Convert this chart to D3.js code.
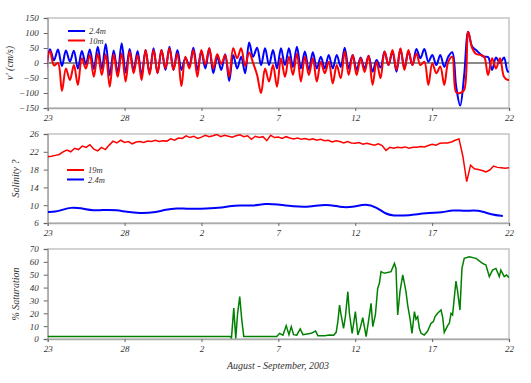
<!DOCTYPE html>
<html>
<head>
<meta charset="utf-8">
<script src="https://cdn.jsdelivr.net/npm/d3@7"></script>
<style>
  body { margin: 0; background: #fff; }
</style>
</head>
<body>
<svg id="chart" width="531" height="383"></svg>
<script>
// x axis: days since 23 August 2003
const xTickDays = [0, 5, 10, 15, 20, 25, 30];
const xTickLabels = ["23", "28", "2", "7", "12", "17", "22"];

// velocity: tidal extremes, sampled every ~6.2 h from day -0.11
const velStart = -0.11;
const velStep = 0.259;
const vel24m = [
  -25, 46, 9, 45, -10, 42, 5, 41, -19, 40,
  -4, 45, -20, 54, -20, 63, -41, 42, -33, 66,
  -32, 47, -24, 40, -40, 43, -34, 49, -34, 43,
  -23, 54, -23, 43, -23, 16, -7, 51, -23, 38,
  -18, 49, -34, 21, -23, 29, -60, 27, -18, 21,
  -34, 68, 21, 51, -7, 49, -7, 43, -18, 49,
  -7, 49, -13, 54, -18, 38, -23, 36, -18, 21,
  -18, 27, -18, 27, -13, 51, -18, 27,
  -23, 18, -18, 24, -29, 10, -15, 38, -7, 38,
  -29, 47, -18, 38, -7, 47, 16, 47, 4, 27,
  -7, 27, -13, 21, 36, -80, -142, -40, 104, 55,
  43, 30, 21, 20, -23, 18, 0, 18, -29, -20
];
const vel10m = [
  -20, 40, -8, 0, -93, -18, -57, -7, -73, 16,
  -18, 27, -46, 32, -40, 29, -79, 29, -46, 32,
  -62, 38, -34, 27, -57, 43, -38, 43, -34, 43,
  -18, 49, -23, 32, -77, 21, -18, 43, -46, 43,
  -5, 49, -18, 29, -3, 27, -46, 49, 16, 49,
  -10, 35, 0, -40, -100, -18, -62, -7, -79, 16,
  -46, 21, -40, 32, -62, 21, -40, 16, -62, 4,
  -34, 4, -68, -7, -51, 38, -40, 27,
  -40, 16, -30, 24, -73, 4, -51, 38, -7, 43,
  -23, 49, -23, 43, -7, 32, -7, 4, -73, -1,
  -34, -12, -73, 4, 21, -98, -100, -90, 104, 50,
  30, 27, 21, -40, 16, -18, 16, -46, -57, -50
];
const velTicks = [-150, -100, -50, 0, 50, 100, 150];

// salinity: 19m every quarter day, 2.4m at irregular days
const salStep = 0.25;
const sal19m = [
  20.9, 21.0, 21.2, 21.4,
  22.0, 22.4, 22.0, 22.8,
  22.5, 23.3, 23.0, 23.6,
  22.6, 22.2, 23.0, 22.5,
  23.5, 24.4, 24.0, 24.6,
  24.1, 24.3, 23.8, 24.2,
  24.3, 24.1, 24.4, 24.3,
  24.6, 24.3, 24.5, 24.4,
  24.9, 24.6, 25.1, 25.0,
  25.6, 25.2, 25.5, 25.0,
  25.3, 25.7, 25.4, 25.6,
  25.9, 25.4, 25.7, 25.5,
  25.3, 25.6, 25.8, 25.4,
  25.6, 24.8, 25.5, 25.2,
  25.4, 24.5, 25.7, 25.2,
  25.3, 25.0, 25.4, 25.1,
  24.9, 25.1, 24.8, 25.0,
  24.7, 24.9, 24.6, 24.8,
  24.5, 24.6, 24.2, 24.5,
  24.3, 24.0, 24.3, 24.0,
  23.9, 24.1, 23.7, 23.9,
  23.7, 23.5, 23.8, 23.4,
  22.3, 23.0, 22.8, 23.0,
  22.9, 23.1, 22.8, 23.0,
  23.0, 23.2, 23.1, 23.4,
  23.7, 23.5, 23.9, 24.0,
  24.0, 24.2, 24.6, 24.9,
  21.0, 15.3, 19.0, 18.2,
  18.0, 17.8, 17.5, 17.9,
  18.8, 18.5, 18.4, 18.3,
  18.4
];
const sal24Days = [0, 0.5, 1, 1.5, 2.1, 3, 3.8, 4.5, 5.1, 6, 6.9, 7.7, 8.4, 9, 9.9, 11.2, 11.8, 12.5, 13.3, 14.2,
  14.9, 16, 17, 18.1, 19, 19.8, 20.7, 21.4, 22, 22.4, 23.5, 24.6, 25.7, 26.3, 27.2, 27.95, 28.9, 29.6];
const sal24m = [8.5, 8.5, 9.0, 9.5, 9.4, 8.7, 9.0, 8.9, 8.5, 8.15, 8.3, 9.05, 9.35, 9.2, 9.2, 9.35, 9.8, 10.0, 9.8, 10.4,
  10.2, 9.7, 9.55, 10.3, 9.55, 9.5, 10.4, 9.5, 8.0, 7.65, 7.65, 8.3, 8.3, 9.0, 8.6, 9.0, 7.8, 7.6];
const salTicks = [6, 10, 14, 18, 22, 26];

// dissolved oxygen, % saturation
const oxDays = [0, 10.7, 11.9, 11.95, 12.1, 12.23, 12.35, 12.49, 12.62, 12.75, 14.9,
  15.08, 15.3, 15.51, 15.69, 15.84, 15.99, 16.2, 16.42, 16.6, 17.14, 17.42, 17.57, 18.0, 18.33, 18.6,
  18.76, 18.87, 18.98, 19.08, 19.24, 19.36, 19.52, 19.62, 19.8, 20.01, 20.17, 20.32, 20.49, 20.71,
  20.88, 21.03, 21.14, 21.31, 21.46, 21.57, 21.68, 21.9, 22.11, 22.33, 22.55, 22.65, 22.76, 22.91,
  23.09, 23.2, 23.3, 23.41, 23.56, 23.69, 23.85, 23.95, 24.06, 24.17, 24.28, 24.49, 24.71, 24.93,
  25.08, 25.19, 25.36, 25.58, 25.69, 25.79, 26.01, 26.12, 26.23, 26.33, 26.55, 26.66, 26.81, 26.94,
  27.09, 27.42, 27.85, 28.28, 28.5, 28.72, 28.93, 29.15, 29.37, 29.47, 29.69, 29.84, 30.0];
const oxSat = [2, 2, 2, 0.5, 24, 0.5, 20, 33, 15, 2, 2,
  4.4, 3, 10.4, 3.4, 9.6, 3.4, 3, 7.8, 3.4, 4.4, 6.2, 2.6, 2.6, 3.1, 3,
  5.2, 13.5, 26.4, 18.7, 8.3, 17.4, 36.8, 20, 4.4, 21.3, 3.1, 8.3, 16.6, 1.8,
  15.3, 27.7, 9.6, 18.7, 39.4, 43.3, 52.4, 51.1, 51.8, 52.4, 58.8, 54.9, 18.7, 36.8,
  49.8, 43.3, 36.8, 26.4, 16, 4.4, 21.3, 15.3, 17.4, 8.3, 4.4, 3.1, 6.2, 12.2,
  13.5, 17.4, 20, 22.5, 16.6, 5.2, 10.4, 12.2, 20, 18.7, 45.1, 36.8, 22.5, 54.9,
  62.7, 64, 62.7, 58.8, 57.5, 48.5, 53.6, 54.9, 48.5, 53.6, 48.5, 49.8, 47.7];
const oxTicks = [0, 10, 20, 30, 40, 50, 60, 70];

const FONT = "'Liberation Serif', 'Times New Roman', serif";

const svg = d3.select("#chart");
const left = 47.7, right = 509;

const x = d3.scaleLinear().domain([0, 30]).range([left, right]);

function label(sel, size) {
  return sel
    .attr("font-family", FONT)
    .attr("font-style", "italic")
    .attr("font-size", size)
    .attr("fill", "#333");
}

function panel(top, bottom, yDomain, yTicks, yLabel, labelX, id) {
  const y = d3.scaleLinear().domain(yDomain).range([bottom, top]);
  const g = svg.append("g");

  svg.append("clipPath").attr("id", id)
    .append("rect")
    .attr("x", left).attr("y", top)
    .attr("width", right - left).attr("height", bottom - top);

  g.append("rect")
    .attr("x", left).attr("y", top)
    .attr("width", right - left).attr("height", bottom - top)
    .attr("fill", "none")
    .attr("stroke", "#c4c4c4")
    .attr("stroke-width", 1.5);

  const ya = g.append("g")
    .attr("transform", `translate(${left},0)`)
    .call(d3.axisLeft(y).tickValues(yTicks).tickSize(4).tickPadding(5));
  const xa = g.append("g")
    .attr("transform", `translate(0,${bottom})`)
    .call(d3.axisBottom(x).tickValues(xTickDays).tickSize(3).tickPadding(4)
      .tickFormat((d, i) => xTickLabels[i]));

  [ya, xa].forEach(a => {
    a.attr("font-family", FONT);
    a.select(".domain").attr("stroke", "#aaa").attr("stroke-width", 1.5);
    a.selectAll(".tick line").attr("stroke", "#666");
    label(a.selectAll(".tick text"), 9);
  });

  label(g.append("text"), 10)
    .attr("transform", `translate(${labelX},${(top + bottom) / 2}) rotate(-90)`)
    .attr("text-anchor", "middle")
    .text(yLabel);

  const plot = svg.append("g").attr("clip-path", `url(#${id})`);
  return { y, plot };
}

function legend(rows, x0, y0) {
  rows.forEach((r, i) => {
    const yy = y0 + i * 9.5;
    svg.append("line")
      .attr("x1", x0).attr("x2", x0 + 17)
      .attr("y1", yy).attr("y2", yy)
      .attr("stroke", r.color).attr("stroke-width", 2);
    label(svg.append("text"), 8.5)
      .attr("x", x0 + 21).attr("y", yy + 3)
      .text(r.name);
  });
}

// top: velocity
const p1 = panel(18, 108, [-150, 150], velTicks, "v' (cm/s)", 13, "clip1");
p1.plot.append("line")
  .attr("x1", left).attr("x2", right)
  .attr("y1", p1.y(0)).attr("y2", p1.y(0))
  .attr("stroke", "#8a8a8a").attr("stroke-width", 2);

const velLine = d3.line()
  .x((d, i) => x(velStart + i * velStep))
  .y(d => p1.y(d))
  .curve(d3.curveCatmullRom.alpha(0.5));

p1.plot.append("path").datum(vel24m)
  .attr("d", velLine).attr("fill", "none")
  .attr("stroke", "#0000ff").attr("stroke-width", 2);
p1.plot.append("path").datum(vel10m)
  .attr("d", velLine).attr("fill", "none")
  .attr("stroke", "#ff0000").attr("stroke-width", 2);

legend([{ name: "2.4m", color: "#0000ff" }, { name: "10m", color: "#ff0000" }], 68, 31);

// middle: salinity
const p2 = panel(134, 223, [6, 26], salTicks, "Salinity ?", 19, "clip2");
p2.plot.append("path").datum(sal19m)
  .attr("d", d3.line().x((d, i) => x(i * salStep)).y(d => p2.y(d)))
  .attr("fill", "none")
  .attr("stroke", "#ff0000").attr("stroke-width", 1.5);
p2.plot.append("path").datum(sal24m)
  .attr("d", d3.line().x((d, i) => x(sal24Days[i])).y(d => p2.y(d)).curve(d3.curveBasis))
  .attr("fill", "none")
  .attr("stroke", "#0000ff").attr("stroke-width", 2);

legend([{ name: "19m", color: "#ff0000" }, { name: "2.4m", color: "#0000ff" }], 67, 170);

// bottom: oxygen
const p3 = panel(249, 339, [0, 70], oxTicks, "% Saturation", 19, "clip3");
p3.plot.append("path").datum(oxSat)
  .attr("d", d3.line().x((d, i) => x(oxDays[i])).y(d => p3.y(d)))
  .attr("fill", "none")
  .attr("stroke", "#008000").attr("stroke-width", 1.5);

label(svg.append("text"), 10)
  .attr("x", 278).attr("y", 369)
  .attr("text-anchor", "middle")
  .text("August - September, 2003");
</script>
</body>
</html>
